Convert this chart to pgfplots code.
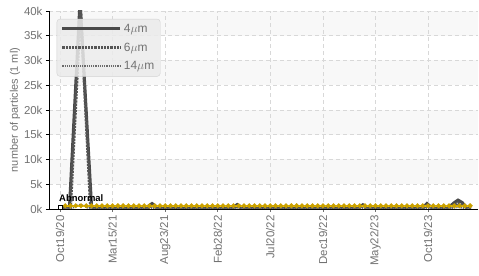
\documentclass[border=0pt]{standalone}
\usepackage{fontspec}
\setmainfont{Liberation Sans}
\usepackage{pgfplots}
\pgfplotsset{compat=1.18}
\definecolor{tickgray}{HTML}{727272}
\definecolor{gridgray}{HTML}{D8D8D8}
\definecolor{bandgray}{HTML}{F8F8F8}
\definecolor{gold}{HTML}{F2C200}
\definecolor{goldmark}{HTML}{C9A000}
\definecolor{s4}{HTML}{4A4A4A}
\definecolor{s6}{HTML}{555555}
\definecolor{s14}{HTML}{6A6A6A}
\begin{document}
\begin{tikzpicture}[x=1bp,y=1bp]
\begin{axis}[
  set layers,
  scale only axis, width=429bp, height=198bp,
  xmin=-0.21, xmax=7.95, ymin=0, ymax=40000,
  axis lines*=left,
  axis line style={black, line width=0.8bp, -},
  xtick={0,1,2,3,4,5,6,7},
  xticklabels={Oct19/20,Mar15/21,Aug23/21,Feb28/22,Jul20/22,Dec19/22,May22/23,Oct19/23},
  x tick label style={rotate=90, anchor=east, font=\fontsize{11.5}{12}\selectfont, text=tickgray},
  ytick={0,5000,10000,15000,20000,25000,30000,35000,40000},
  yticklabels={0k,5k,10k,15k,20k,25k,30k,35k,40k},
  scaled y ticks=false,
  y tick label style={font=\fontsize{11.5}{12}\selectfont, text=tickgray},
  /pgf/number format/assume math mode=true,
  tick align=outside, major tick length=3bp,
  tick style={black, line width=0.6bp},
  xtick style={tickgray},
  grid=major,
  grid style={gridgray, dash pattern=on 4bp off 3bp, line width=0.6bp},
  ylabel={number of particles (1 ml)},
  ylabel style={font=\fontsize{11}{12}\selectfont, text=tickgray, at={(ticklabel cs:0.5)}, yshift=-3bp},
  clip=true,
  legend style={at={(0.018,0.96)}, anchor=north west, fill=gray!16, fill opacity=0.85, text opacity=1, draw=gray!35, rounded corners=3bp, font=\fontsize{12}{12}\selectfont, text=tickgray, row sep=5bp, inner xsep=4bp, inner ysep=3bp},
  legend cell align=left,
  legend image code/.code={\draw[#1] (0bp,0bp) -- (58bp,0bp);},
]
\begin{pgfonlayer}{axis background}
\fill[bandgray] (axis cs:-0.21,35000) rectangle (axis cs:7.95,40000);
\fill[bandgray] (axis cs:-0.21,25000) rectangle (axis cs:7.95,30000);
\fill[bandgray] (axis cs:-0.21,15000) rectangle (axis cs:7.95,20000);
\fill[bandgray] (axis cs:-0.21,5000) rectangle (axis cs:7.95,10000);
\end{pgfonlayer}
% 4 um
\addplot[s4, line width=3bp] coordinates {
(0.00,250) (0.06,300) (0.18,500) (0.38,42000) (0.60,500) (0.70,300) (0.90,280) (1.10,320) (1.30,290) (1.50,310) (1.65,350) (1.75,1100) (1.85,350) (2.00,300) (2.20,280) (2.40,310) (2.60,290) (2.80,300) (3.00,320) (3.20,300) (3.30,380) (3.37,900) (3.45,380) (3.60,300) (3.80,290) (4.00,310) (4.20,300) (4.40,280) (4.60,300) (4.80,310) (5.00,290) (5.20,300) (5.40,320) (5.60,300) (5.70,400) (5.76,850) (5.82,400) (6.00,300) (6.20,290) (6.40,310) (6.60,300) (6.80,320) (6.92,450) (6.98,1100) (7.05,450) (7.20,300) (7.40,400) (7.50,1300) (7.57,1800) (7.65,1300) (7.72,500) (7.82,300)
};
\addlegendentry{4$\mu$m}
% 6 um
\addplot[s6, line width=3bp, dash pattern=on 2.2bp off 1bp] coordinates {
(0.00,120) (0.06,150) (0.20,400) (0.39,40500) (0.58,400) (0.70,150) (0.90,140) (1.10,160) (1.30,150) (1.50,150) (1.65,180) (1.75,700) (1.85,180) (2.00,150) (2.20,140) (2.40,160) (2.60,150) (2.80,150) (3.00,160) (3.20,150) (3.30,200) (3.37,600) (3.45,200) (3.60,150) (3.80,140) (4.00,160) (4.20,150) (4.40,140) (4.60,150) (4.80,160) (5.00,150) (5.20,150) (5.40,160) (5.60,150) (5.70,200) (5.76,500) (5.82,200) (6.00,150) (6.20,140) (6.40,160) (6.60,150) (6.80,160) (6.92,250) (6.98,700) (7.05,250) (7.20,150) (7.40,200) (7.50,800) (7.57,1200) (7.65,800) (7.72,250) (7.82,150)
};
\addlegendentry{6$\mu$m}
% 14 um
\addplot[s14, line width=2bp, dash pattern=on 1.2bp off 1bp] coordinates {
(0.00,40) (0.20,60) (0.39,900) (0.58,60) (0.80,50) (1.00,40) (1.20,50) (1.40,40) (1.60,50) (1.75,200) (1.90,50) (2.10,40) (2.30,50) (2.50,40) (2.70,50) (2.90,40) (3.10,50) (3.37,150) (3.60,50) (3.80,40) (4.00,50) (4.20,40) (4.40,50) (4.60,40) (4.80,50) (5.00,40) (5.20,50) (5.40,40) (5.60,50) (5.76,120) (6.00,50) (6.20,40) (6.40,50) (6.60,40) (6.80,50) (6.98,200) (7.20,50) (7.40,60) (7.57,400) (7.72,60) (7.82,50)
};
\addlegendentry{14$\mu$m}
% threshold (yellow)
\addplot[gold, line width=2.2bp, mark=*, mark size=1.1bp, mark options={fill=goldmark, draw=goldmark}, forget plot] coordinates {
(0.10,650) (0.20,650) (0.30,650) (0.40,650) (0.50,650) (0.60,650) (0.70,650) (0.80,650) (0.90,650) (1.00,650) (1.10,650) (1.20,650) (1.30,650) (1.40,650) (1.50,650) (1.60,650) (1.70,650) (1.80,650) (1.90,650) (2.00,650) (2.10,650) (2.20,650) (2.30,650) (2.40,650) (2.50,650) (2.60,650) (2.70,650) (2.80,650) (2.90,650) (3.00,650) (3.10,650) (3.20,650) (3.30,650) (3.40,650) (3.50,650) (3.60,650) (3.70,650) (3.80,650) (3.90,650) (4.00,650) (4.10,650) (4.20,650) (4.30,650) (4.40,650) (4.50,650) (4.60,650) (4.70,650) (4.80,650) (4.90,650) (5.00,650) (5.10,650) (5.20,650) (5.30,650) (5.40,650) (5.50,650) (5.60,650) (5.70,650) (5.80,650) (5.90,650) (6.00,650) (6.10,650) (6.20,650) (6.30,650) (6.40,650) (6.50,650) (6.60,650) (6.70,650) (6.80,650) (6.90,650) (7.00,650) (7.10,650) (7.20,650) (7.30,650) (7.40,650) (7.50,650) (7.60,650) (7.70,650) (7.80,650)
};
% abnormal marker
\addplot[black, only marks, mark=square*, mark size=1.8bp, mark options={fill=white, draw=black, line width=0.6bp}, forget plot] coordinates {(0,400)};
\node[anchor=south west, font=\bfseries\fontsize{9.5}{10}\selectfont, inner sep=0pt] at (axis cs:-0.02,1400) {Abnormal};
\end{axis}
\path[use as bounding box] ([shift={(-49bp,-67bp)}]current axis.south west) rectangle ([shift={(1bp,11bp)}]current axis.north east);
\end{tikzpicture}
\end{document}
